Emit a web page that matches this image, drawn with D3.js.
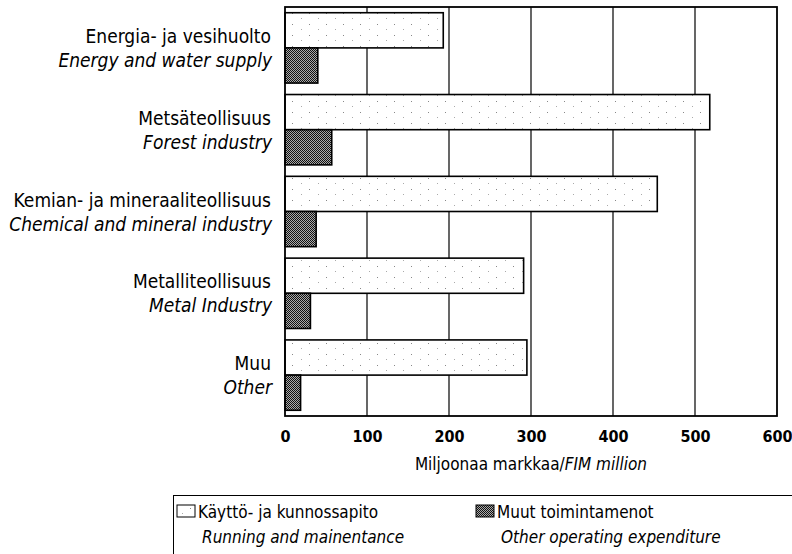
<!DOCTYPE html>
<html lang="fi">
<head>
<meta charset="UTF-8">
<title>Käyttö- ja kunnossapito</title>
<script src="https://d3js.org/d3.v7.min.js"></script>
<style>
  body { margin: 0; background: #fff; }
  svg text { font-family: "DejaVu Sans Condensed", "Liberation Sans Narrow", sans-serif; fill: #000; }
  .lab { font-size: 19px; }
  .leg { font-size: 17px; }
  .it { font-style: italic; }
  .tick-lab { font-size: 16px; font-weight: bold; }
</style>
</head>
<body>
<div id="chart"></div>
<script>
// toimialat / industries
const categoriesFi = ["Energia- ja vesihuolto", "Metsäteollisuus", "Kemian- ja mineraaliteollisuus", "Metalliteollisuus", "Muu"];
const categoriesEn = ["Energy and water supply", "Forest industry", "Chemical and mineral industry", "Metal Industry", "Other"];
// miljoonaa markkaa
const running = [193, 518, 454, 291, 295];
const other = [40, 57, 38, 31, 19];
const ticks = [0, 100, 200, 300, 400, 500, 600];

const W = 792, H = 554;
const m = { left: 285, right: 777, top: 7, bottom: 416 };

const svg = d3.select("#chart").append("svg").attr("width", W).attr("height", H);

// kuviot
const defs = svg.append("defs");
const dots = defs.append("pattern").attr("id", "dots").attr("patternUnits", "userSpaceOnUse")
  .attr("width", 17).attr("height", 11);
dots.append("rect").attr("width", 17).attr("height", 11).attr("fill", "#fff");
dots.append("rect").attr("x", 3).attr("y", 2).attr("width", 1).attr("height", 1).attr("fill", "#888");
dots.append("rect").attr("x", 12).attr("y", 7).attr("width", 1).attr("height", 1).attr("fill", "#aaa");
const check = defs.append("pattern").attr("id", "check").attr("patternUnits", "userSpaceOnUse")
  .attr("width", 2).attr("height", 2);
check.append("rect").attr("width", 2).attr("height", 2).attr("fill", "#aaa");
check.append("rect").attr("width", 1).attr("height", 1).attr("fill", "#111");
check.append("rect").attr("x", 1).attr("y", 1).attr("width", 1).attr("height", 1).attr("fill", "#111");

const x = d3.scaleLinear().domain([0, 600]).range([m.left, m.right]);
const y = d3.scaleBand().domain(categoriesFi).range([m.top, m.bottom]).paddingInner(0.14).paddingOuter(0.07);
const sub = d3.scaleBand().domain(["run", "oth"]).range([0, y.bandwidth()]);

// ruudukko
svg.append("g").selectAll("line").data(ticks.slice(1, -1)).join("line")
  .attr("x1", d => x(d)).attr("x2", d => x(d))
  .attr("y1", m.top).attr("y2", m.bottom)
  .attr("stroke", "#000").attr("stroke-width", 1.2);

// palkit
const g = svg.append("g");
g.selectAll(".run").data(running).join("rect")
  .attr("x", x(0)).attr("y", (d, i) => y(categoriesFi[i]) + sub("run"))
  .attr("width", d => x(d) - x(0)).attr("height", sub.bandwidth())
  .attr("fill", "url(#dots)").attr("stroke", "#000").attr("stroke-width", 1.6);
g.selectAll(".oth").data(other).join("rect")
  .attr("x", x(0)).attr("y", (d, i) => y(categoriesFi[i]) + sub("oth"))
  .attr("width", d => x(d) - x(0)).attr("height", sub.bandwidth())
  .attr("fill", "url(#check)").attr("stroke", "#000").attr("stroke-width", 1.6);

// kehys
svg.append("rect").attr("x", m.left).attr("y", m.top)
  .attr("width", m.right - m.left).attr("height", m.bottom - m.top)
  .attr("fill", "none").attr("stroke", "#000").attr("stroke-width", 1.8);

// luokkien nimet
const labs = svg.append("g");
categoriesFi.forEach((c, i) => {
  const yc = y(c) + y.bandwidth() / 2;
  labs.append("text").attr("class", "lab").attr("x", 271).attr("y", yc - 5)
    .attr("text-anchor", "end").text(c);
  labs.append("text").attr("class", "lab it").attr("x", 272).attr("y", yc + 19)
    .attr("text-anchor", "end").text(categoriesEn[i]);
});

// x-akseli
const xAxis = d3.axisBottom(x).tickValues(ticks).tickSize(0).tickPadding(0);
const ax = svg.append("g").attr("transform", `translate(0,${m.bottom})`).call(xAxis);
ax.select(".domain").remove();
ax.selectAll("text").attr("class", "tick-lab").attr("y", 15).attr("dy", "0.71em");

const title = svg.append("text").attr("class", "leg").attr("x", 531).attr("y", 470).attr("text-anchor", "middle");
title.append("tspan").text("Miljoonaa markkaa/");
title.append("tspan").attr("class", "it").text("FIM million");

// selite
svg.append("rect").attr("x", 173.5).attr("y", 495.5).attr("width", 640).attr("height", 100)
  .attr("fill", "none").attr("stroke", "#000").attr("stroke-width", 1);
const legend = [
  { fi: "Käyttö- ja kunnossapito", en: "Running and mainentance", fill: "url(#dots)", x: 177 },
  { fi: "Muut toimintamenot", en: "Other operating expenditure", fill: "url(#check)", x: 476 }
];
const lg = svg.append("g").selectAll("g").data(legend).join("g");
lg.append("rect").attr("x", d => d.x).attr("y", 505).attr("width", 18).attr("height", 12)
  .attr("fill", d => d.fill).attr("stroke", "#000").attr("stroke-width", 1);
lg.append("text").attr("class", "leg").attr("x", d => d.x + 21).attr("y", 518).text(d => d.fi);
lg.append("text").attr("class", "leg it").attr("x", d => d.x + 25).attr("y", 543).text(d => d.en);
</script>
</body>
</html>
